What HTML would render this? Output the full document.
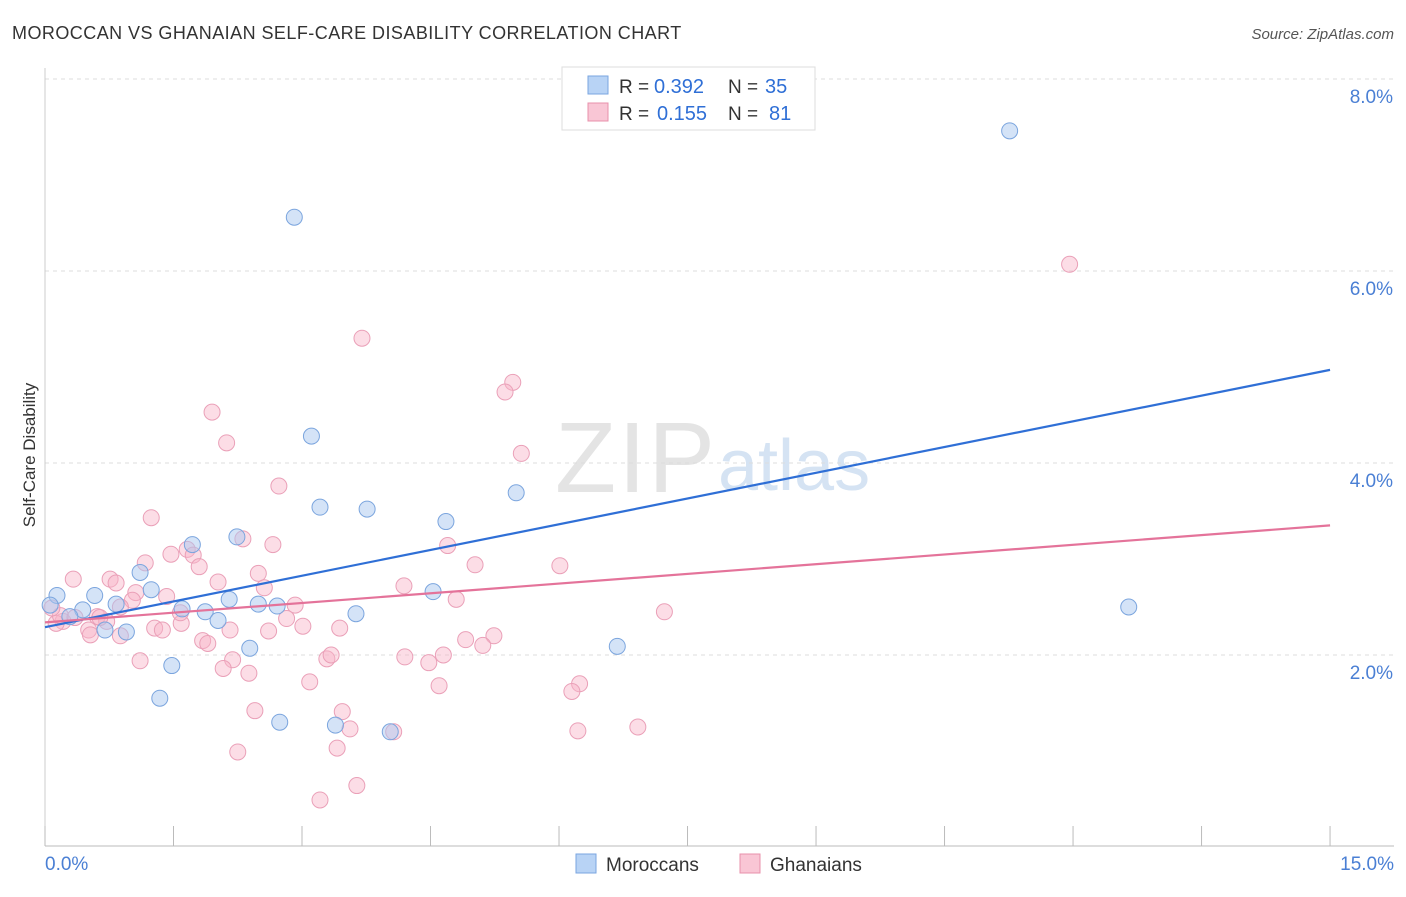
<!DOCTYPE html>
<html><head><meta charset="utf-8"><style>
body{margin:0;background:#fff;font-family:"Liberation Sans",sans-serif;}
svg text{font-family:"Liberation Sans",sans-serif;}
</style></head><body>
<svg id="c" width="1406" height="892" xmlns="http://www.w3.org/2000/svg">
<text x="12" y="39" font-size="18" letter-spacing="0.45" fill="#333">MOROCCAN VS GHANAIAN SELF-CARE DISABILITY CORRELATION CHART</text>
<text x="1394" y="39" font-size="15" fill="#555" text-anchor="end" font-style="italic">Source: ZipAtlas.com</text>
<text x="555" y="492" font-size="100" fill="#e4e4e4" textLength="160" font-family="Liberation Serif">ZIP</text>
<text x="718" y="490" font-size="72" fill="#d5e3f3">atlas</text>
<g id="grid"></g><g id="axes"></g>
<g id="pts"></g><g id="lines"></g>
<text x="35" y="455" font-size="17" fill="#333" text-anchor="middle" transform="rotate(-90 35 455)">Self-Care Disability</text>
<text x="45" y="870" font-size="19" fill="#4a7fd4">0.0%</text>
<text x="1394" y="870" font-size="19" fill="#4a7fd4" text-anchor="end">15.0%</text>
<g>
<rect x="562" y="67" width="253" height="63" fill="#fff" stroke="#ddd"/>
<rect x="588" y="76" width="20" height="18" fill="#b8d3f5" stroke="#7aa6e0"/>
<rect x="588" y="103" width="20" height="18" fill="#f9c6d5" stroke="#e890ab"/>
<text x="619" y="93" font-size="19" fill="#333">R =</text>
<text x="654" y="93" font-size="20" fill="#2f6fd6">0.392</text>
<text x="728" y="93" font-size="19" fill="#333">N =</text>
<text x="765" y="93" font-size="20" fill="#2f6fd6">35</text>
<text x="619" y="120" font-size="19" fill="#333">R =</text>
<text x="657" y="120" font-size="20" fill="#2f6fd6">0.155</text>
<text x="728" y="120" font-size="19" fill="#333">N =</text>
<text x="769" y="120" font-size="20" fill="#2f6fd6">81</text>
</g>
<g>
<rect x="576" y="854" width="20" height="19" fill="#b8d3f5" stroke="#7aa6e0"/>
<text x="606" y="871" font-size="19" fill="#333">Moroccans</text>
<rect x="740" y="854" width="20" height="19" fill="#f9c6d5" stroke="#e890ab"/>
<text x="770" y="871" font-size="19" fill="#333">Ghanaians</text>
</g>
</svg>
<script>
const yTicks=[2,4,6,8];
const yTickLabels=["2.0%","4.0%","6.0%","8.0%"];
const xTicks=[0,1.5,3,4.5,6,7.5,9,10.5,12,13.5,15];
const moroccanX=[11.26,2.91,3.11,3.21,3.76,4.68,5.5,2.24,1.72,1.11,1.24,0.58,0.83,1.6,1.87,2.15,2.49,2.71,3.63,4.53,2.02,0.7,0.95,2.39,1.48,1.34,2.74,3.39,4.03,6.68,12.65,0.14,0.06,0.44,0.29];
const moroccanY=[7.46,6.56,4.28,3.54,3.52,3.39,3.69,3.23,3.15,2.86,2.68,2.62,2.53,2.48,2.45,2.58,2.53,2.51,2.43,2.66,2.36,2.26,2.24,2.07,1.89,1.55,1.30,1.27,1.20,2.09,2.50,2.62,2.52,2.47,2.40];
const ghanaX=[11.96,3.7,5.46,5.37,1.95,2.12,5.56,2.73,1.24,2.31,2.66,4.7,1.66,1.47,1.73,1.17,1.8,5.02,6.01,0.33,0.76,2.49,2.02,0.83,4.19,2.56,1.06,1.42,1.02,4.8,2.92,2.82,3.01,7.23,0.61,0.72,0.21,0.51,1.59,1.28,1.37,2.61,3.44,0.53,0.88,4.91,5.24,5.11,1.84,1.9,2.19,4.2,4.48,4.65,3.29,3.34,1.11,2.08,2.38,3.09,4.6,6.24,6.15,2.45,3.47,3.56,4.07,6.22,6.92,3.41,2.25,3.64,3.21,0.13,0.18,0.08,0.35,0.64,1.58,0.88,2.16];
const ghanaY=[6.07,5.3,4.84,4.74,4.53,4.21,4.1,3.76,3.43,3.21,3.15,3.14,3.10,3.05,3.04,2.96,2.92,2.94,2.93,2.79,2.79,2.85,2.76,2.75,2.72,2.70,2.65,2.61,2.57,2.58,2.52,2.38,2.30,2.45,2.40,2.35,2.35,2.26,2.33,2.28,2.26,2.25,2.28,2.21,2.2,2.16,2.20,2.10,2.15,2.12,1.95,1.98,1.92,2.0,1.96,2.0,1.94,1.86,1.81,1.72,1.68,1.70,1.62,1.42,1.41,1.23,1.20,1.21,1.25,1.03,0.99,0.64,0.49,2.33,2.41,2.49,2.39,2.39,2.44,2.5,2.26];
const blueLine=[2.29,4.97];
const pinkLine=[2.34,3.35];
const X=v=>45+v*85.67, Y=v=>847-v*96;
const NS="http://www.w3.org/2000/svg";
function mk(t,a,p){const e=document.createElementNS(NS,t);for(const k in a)e.setAttribute(k,a[k]);p.appendChild(e);return e;}
const grid=document.getElementById('grid'),axes=document.getElementById('axes'),pts=document.getElementById('pts'),lines=document.getElementById('lines');
yTicks.forEach((v,i)=>{
 const l=mk('line',{x1:45,x2:1394,y1:Y(v),y2:Y(v),stroke:'#ddd','stroke-dasharray':'4,4'},grid);
 
 
 const t=mk('text',{x:1393,y:Y(v)+24,'font-size':19,fill:'#4a7fd4','text-anchor':'end'},grid);
 t.textContent=yTickLabels[i];
 
 
});
const ax=mk('line',{x1:45,x2:1394,y1:846,y2:846,stroke:'#bbb'},axes);


const ay=mk('line',{x1:45,x2:45,y1:68,y2:846,stroke:'#ccc'},axes);


xTicks.forEach(v=>{
 const l=mk('line',{x1:X(v),x2:X(v),y1:826,y2:846,stroke:'#bbb'},axes);
 
 
});
ghanaX.forEach((v,i)=>{
 const c=mk('circle',{cx:X(v),cy:Y(ghanaY[i]),r:8,fill:'rgba(248,180,200,0.45)',stroke:'#eaa0b8','stroke-width':1},pts);
 
 
});
moroccanX.forEach((v,i)=>{
 const c=mk('circle',{cx:X(v),cy:Y(moroccanY[i]),r:8,fill:'rgba(170,200,240,0.5)',stroke:'#7ba5de','stroke-width':1},pts);
 
 
});
const b=mk('line',{x1:X(0),x2:X(15),y1:Y(blueLine[0]),y2:Y(blueLine[1]),stroke:'#2f6fd6','stroke-width':2.2},lines);


const p=mk('line',{x1:X(0),x2:X(15),y1:Y(pinkLine[0]),y2:Y(pinkLine[1]),stroke:'#e4739a','stroke-width':2.2},lines);


</script>
</body></html>
